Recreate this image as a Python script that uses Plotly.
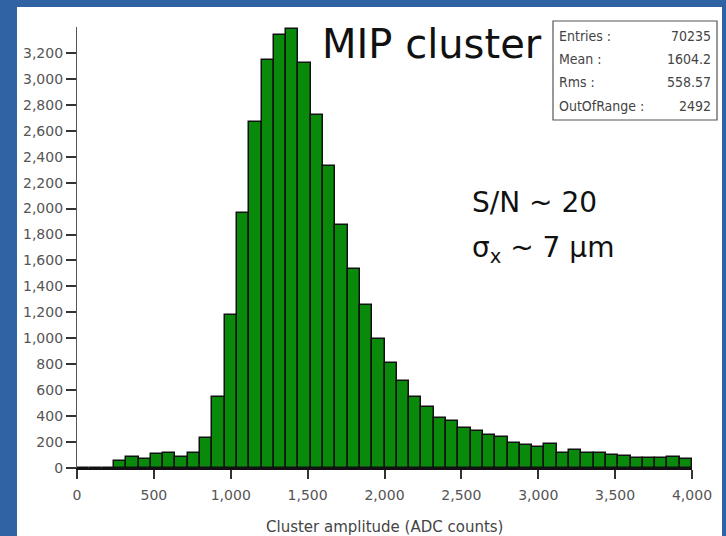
import plotly.graph_objects as go

# Histogram of cluster amplitudes: 80-count bins from 0 to 4000
bin_width = 80
bin_edges = [i * bin_width for i in range(50)]
counts = [
    0, 0, 0,
    56, 87, 69, 105, 118, 87, 115, 228, 549,
    1178, 1965, 2666, 3146, 3341, 3387, 3123, 2725, 2330, 1871, 1532, 1255,
    993, 811, 672, 549, 472, 382, 364, 305, 287, 254, 241,
    195, 177, 164, 182, 118, 139, 118, 118, 97, 92, 79, 79, 79, 87, 67,
]
bin_centers = [e + bin_width / 2 for e in bin_edges]

x_ticks = list(range(0, 4001, 500))
y_ticks = list(range(0, 3201, 200))
x_title = "Cluster amplitude (ADC counts)"

stats_labels = ["Entries :", "Mean :", "Rms :", "OutOfRange :"]
stats_values = ["70235", "1604.2", "558.57", "2492"]

# page / plot geometry in pixels
W, H = 726, 536
ML, MR, MT, MB = 77, 34, 27, 68
PW, PH = W - ML - MR, H - MT - MB


def px(x):
    return (x - ML) / PW


def py(y):
    return (H - MB - y) / PH


fig = go.Figure()
fig.add_trace(go.Bar(
    x=bin_centers, y=counts, width=bin_width,
    marker=dict(color="#0a8a0a", line=dict(color="#111111", width=1.5)),
    showlegend=False, hoverinfo="x+y",
))

shapes = [
    # white slide panel
    dict(type="rect", xref="paper", yref="paper", layer="below",
         x0=px(17), x1=px(722), y0=py(540), y1=py(7),
         fillcolor="white", line=dict(width=0)),
    # statistics box
    dict(type="rect", xref="paper", yref="paper",
         x0=px(553), x1=px(717), y0=py(120), y1=py(21),
         fillcolor="white", line=dict(color="#555555", width=1.2)),
]

big_font = "DejaVu Sans"
annotations = [
    dict(text="MIP cluster", x=px(432), y=py(44), xref="paper", yref="paper",
         xanchor="center", yanchor="middle", showarrow=False,
         font=dict(family=big_font, size=40, color="#111111")),
    dict(text="S/N ~ 20", x=px(470), y=py(203), xref="paper", yref="paper",
         xanchor="left", yanchor="middle", showarrow=False,
         font=dict(family=big_font, size=28, color="#111111")),
    dict(text="σ<sub>x</sub> ~ 7 μm", x=px(470), y=py(249), xref="paper", yref="paper",
         xanchor="left", yanchor="middle", showarrow=False,
         font=dict(family=big_font, size=28, color="#111111")),
    # x-axis title
    dict(text=x_title, x=px(384), y=py(527), xref="paper", yref="paper",
         xanchor="center", yanchor="middle", showarrow=False,
         font=dict(family="DejaVu Sans", size=15, color="#444444")),
]
stat_font = dict(family="DejaVu Sans Condensed, DejaVu Sans", size=14, color="#444444")
row_y = [36, 59, 82, 106]
for lab, val, ry in zip(stats_labels, stats_values, row_y):
    annotations.append(dict(text=lab, x=px(557), y=py(ry), xref="paper", yref="paper",
                            xanchor="left", yanchor="middle", showarrow=False,
                            font=stat_font))
    annotations.append(dict(text=val, x=px(713), y=py(ry), xref="paper", yref="paper",
                            xanchor="right", yanchor="middle", showarrow=False,
                            font=stat_font))

tick_font = dict(family="DejaVu Sans", size=14, color="#555555")

fig.update_layout(
    width=W, height=H,
    margin=dict(l=ML, r=MR, t=MT, b=MB, pad=0),
    paper_bgcolor="#2f63a3",
    plot_bgcolor="rgba(0,0,0,0)",
    bargap=0,
    shapes=shapes,
    annotations=annotations,
    xaxis=dict(
        range=[0, 4000], tickvals=x_ticks, tickformat=",d",
        showgrid=False, zeroline=False, automargin=False,
        showline=True, linecolor="#111111", linewidth=2,
        ticks="outside", ticklen=9, tickcolor="#333333", tickwidth=1.5,
        tickfont=tick_font, ticklabelstandoff=4,
    ),
    yaxis=dict(
        range=[0, 3400], tickvals=y_ticks, tickformat=",d",
        showgrid=False, zeroline=False, automargin=False,
        showline=True, linecolor="#555555", linewidth=1.2,
        ticks="outside", ticklen=10, tickcolor="#333333", tickwidth=1.5,
        tickfont=tick_font,
    ),
)

fig.write_html("out.html")
